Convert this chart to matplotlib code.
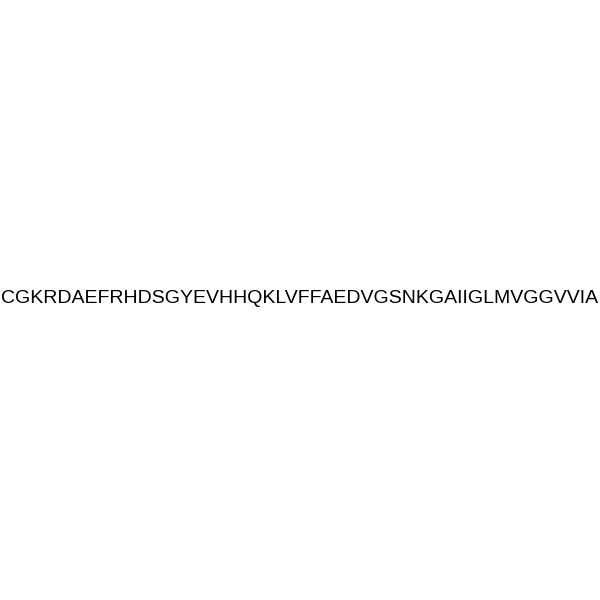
import matplotlib
matplotlib.use("Agg")
import matplotlib.pyplot as plt

# peptide sequence shown in the picture
sequence = "CGKRDAEFRHDSGYEVHHQKLVFFAEDVGSNKGAIIGLMVGGVVIA"
label_pos = (0.5, 0.503)

fig = plt.figure(figsize=(6, 6), dpi=100)
fig.patch.set_facecolor("white")
fig.text(label_pos[0], label_pos[1], sequence, ha="center", va="center",
         fontsize=14, family="Liberation Sans", color="black")

fig.savefig("out.png", dpi=100, facecolor="white")
